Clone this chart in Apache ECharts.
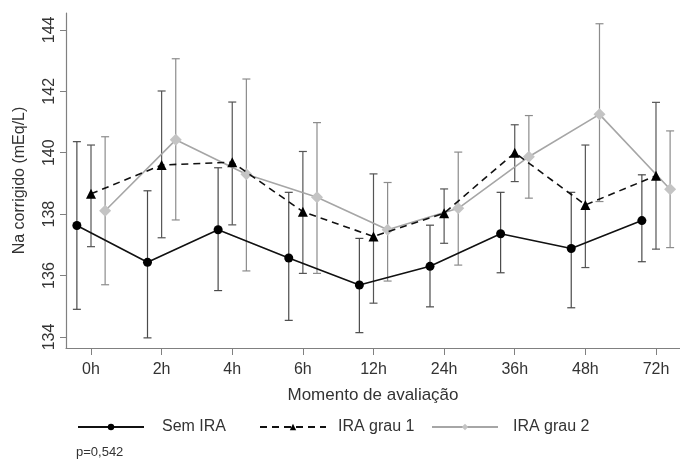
<!DOCTYPE html>
<html>
<head>
<meta charset="utf-8">
<script src="https://cdn.jsdelivr.net/npm/echarts@6/dist/echarts.min.js"></script>
<style>html,body{margin:0;padding:0;background:#fff}#c{width:680px;height:459px}</style>
</head>
<body>
<div id="c"></div>
<script>
const categories = ['0h','2h','4h','6h','12h','24h','36h','48h','72h'];
const yTicks = [134,136,138,140,142,144];

const semMean = [137.63, 136.43, 137.49, 136.57, 135.69, 136.30, 137.36, 136.88, 137.79];
const semLow  = [134.90, 133.97, 135.51, 134.54, 134.14, 134.98, 136.09, 134.95, 136.45];
const semHigh = [140.36, 138.76, 139.51, 138.71, 137.21, 137.64, 138.71, 138.71, 139.28];

const g1Mean = [138.66, 139.60, 139.69, 138.08, 137.27, 138.03, 140.00, 138.30, 139.25];
const g1Low  = [136.94, 137.23, 137.65, 136.07, 135.10, 137.05, 139.06, 136.26, 136.86];
const g1High = [140.25, 142.01, 141.65, 140.04, 139.31, 138.82, 140.91, 140.25, 141.64];

const g2Mean = [138.11, 140.42, 139.30, 138.55, 137.49, 138.19, 139.87, 141.25, 138.81];
const g2Low  = [135.70, 137.81, 136.15, 136.07, 135.82, 136.34, 138.52, 138.41, 136.91];
const g2High = [140.52, 143.06, 142.40, 140.98, 139.03, 140.02, 141.21, 144.20, 140.71];

const seriesNames = ['Sem IRA','IRA grau 1','IRA grau 2'];
const offsets = [-0.2, 0, 0.2];
const legendLefts = [77, 259, 431];
const legendTextGaps = [13, 7, 10];
const FONT = 'Liberation Sans, Arial, sans-serif';

function pts(mean, off){ return mean.map((v,i)=>[i+off, v]); }
function bars(lo, hi, off){ return lo.map((v,i)=>[i+off, v, hi[i]]); }

function errSeries(name, lo, hi, off, color){
  return {
    name: name, type: 'custom', z: 1, silent: true,
    encode: {x: 0, y: [1, 2]},
    data: bars(lo, hi, off),
    renderItem: function(params, api){
      const x = api.value(0);
      const a = api.coord([x, api.value(2)]);
      const b = api.coord([x, api.value(1)]);
      const w = 4;
      const st = {stroke: color, lineWidth: 1.2};
      return {type: 'group', children: [
        {type: 'line', shape: {x1: a[0], y1: a[1], x2: b[0], y2: b[1]}, style: st},
        {type: 'line', shape: {x1: a[0]-w, y1: a[1], x2: a[0]+w, y2: a[1]}, style: st},
        {type: 'line', shape: {x1: b[0]-w, y1: b[1], x2: b[0]+w, y2: b[1]}, style: st}
      ]};
    }
  };
}

const chart = echarts.init(document.getElementById('c'), null, {renderer: 'canvas'});
chart.setOption({
  animation: false,
  textStyle: {fontFamily: FONT},
  grid: {left: 66, right: 0, top: 13, bottom: 111},
  title: {text: 'p=0,542', left: 76, top: 446, padding: 0, textStyle: {fontSize: 13, fontWeight: 'normal', color: '#333', fontFamily: FONT}},
  legend: seriesNames.map((n, i) => ({
    data: [n], left: legendLefts[i], top: 419, padding: 0, itemWidth: 66, itemHeight: 8,
    selectedMode: false,
    textStyle: {fontSize: 16, color: '#333', fontFamily: FONT, padding: [0,0,0,legendTextGaps[i]]}
  })),
  xAxis: {
    type: 'value', min: -0.354, max: 8.34,
    name: 'Momento de avaliação', nameLocation: 'middle', nameGap: 39,
    nameTextStyle: {fontSize: 17, color: '#333', fontFamily: FONT},
    axisLine: {show: true, onZero: false, lineStyle: {color: '#808080', width: 1.2}},
    axisTick: {show: true, length: 7, customValues: categories.map((c,i)=>i), lineStyle: {color: '#808080'}},
    axisLabel: {customValues: categories.map((c,i)=>i), formatter: v => categories[Math.round(v)], fontSize: 16, color: '#333', margin: 14, fontFamily: FONT},
    splitLine: {show: false}
  },
  yAxis: {
    type: 'value', min: 133.64, max: 144.55,
    name: 'Na corrigido (mEq/L)', nameLocation: 'middle', nameGap: 38, nameRotate: 90,
    nameTextStyle: {fontSize: 16, color: '#333', fontFamily: FONT},
    axisLine: {show: true, onZero: false, lineStyle: {color: '#808080', width: 1.2}},
    axisTick: {show: true, length: 6, customValues: yTicks, lineStyle: {color: '#808080'}},
    axisLabel: {customValues: yTicks, rotate: 90, fontSize: 16, color: '#333', margin: 8, fontFamily: FONT},
    splitLine: {show: false}
  },
  series: [
    errSeries('eb0', semLow, semHigh, offsets[0], '#4a4a4a'),
    errSeries('eb1', g1Low, g1High, offsets[1], '#555555'),
    errSeries('eb2', g2Low, g2High, offsets[2], '#8c8c8c'),
    {name: seriesNames[0], type: 'line', z: 3, data: pts(semMean, offsets[0]),
     symbol: 'circle', symbolSize: 9, lineStyle: {color: '#111', width: 1.6},
     itemStyle: {color: '#000'}},
    {name: seriesNames[1], type: 'line', z: 3, data: pts(g1Mean, offsets[1]),
     symbol: 'triangle', symbolSize: 10, lineStyle: {color: '#111', width: 1.6, type: [7,5]},
     itemStyle: {color: '#000'}},
    {name: seriesNames[2], type: 'line', z: 2, data: pts(g2Mean, offsets[2]),
     symbol: 'diamond', symbolSize: 12, lineStyle: {color: '#a6a6a6', width: 1.6},
     itemStyle: {color: '#c4c4c4'}}
  ]
});
</script>
</body>
</html>
